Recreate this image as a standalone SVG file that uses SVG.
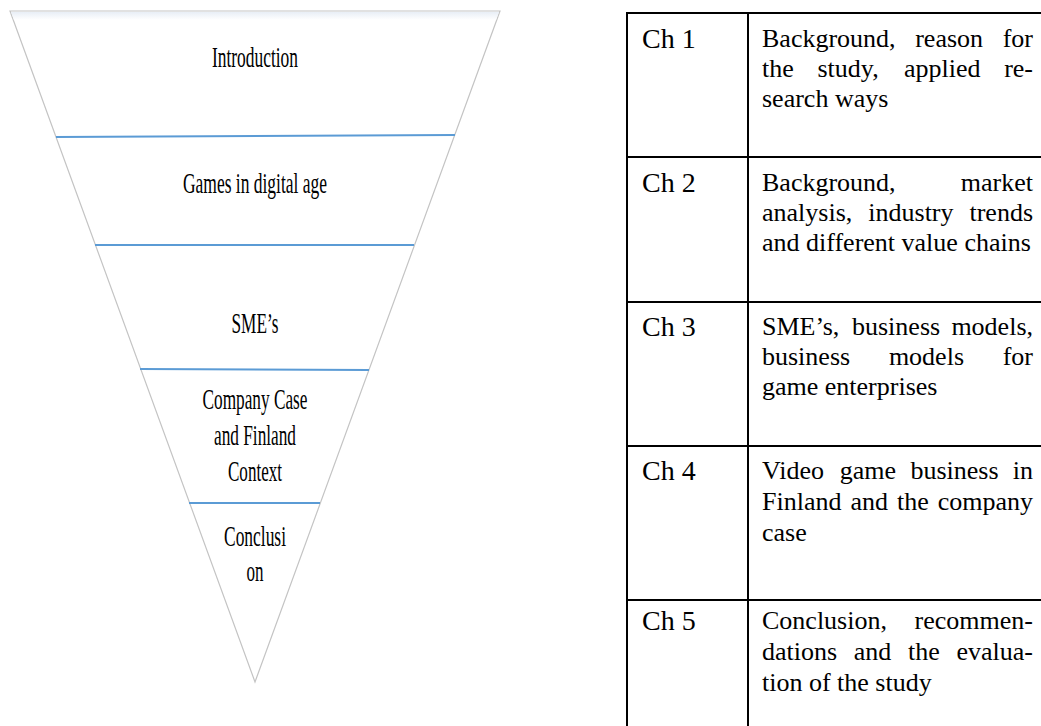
<svg xmlns="http://www.w3.org/2000/svg" width="1041" height="726" viewBox="0 0 1041 726">
<defs>
<style>
.funnel{fill:#ffffff;stroke:#c4c4c4;stroke-width:1.2}
.div{stroke:#5b9bd5;stroke-width:2.2;fill:none}
.ft{font-family:"Liberation Serif","Times New Roman",serif;font-size:30px;fill:#000;text-anchor:middle}
.grid{stroke:#000;stroke-width:2;fill:none}
.ch{font-family:"Liberation Serif","Times New Roman",serif;font-size:28px;fill:#000}
.bt{font-family:"Liberation Serif","Times New Roman",serif;font-size:26px;fill:#000}
.e{text-anchor:end}
</style>
<linearGradient id="topShade" x1="0" y1="0" x2="0" y2="1">
<stop offset="0" stop-color="#e8eef6"/>
<stop offset="1" stop-color="#ffffff"/>
</linearGradient>
</defs>
<rect width="1041" height="726" fill="#ffffff"/>

<g id="funnel">
<polygon class="funnel" points="10,11 500,11 255,682"/>
<polygon points="11,12 499,12 496,20 14,20" fill="url(#topShade)"/>
</g>

<g id="connectors">
<line class="div" x1="56" y1="137" x2="455" y2="135"/>
<line class="div" x1="95" y1="245" x2="414" y2="245"/>
<line class="div" x1="140" y1="369" x2="369" y2="370"/>
<line class="div" x1="189" y1="503" x2="320" y2="503"/>
</g>

<g id="seg-introduction">
<text class="ft" x="255" y="67" textLength="86" lengthAdjust="spacingAndGlyphs">Introduction</text>
</g>
<g id="seg-games">
<text class="ft" x="255" y="193" textLength="144" lengthAdjust="spacingAndGlyphs">Games in digital age</text>
</g>
<g id="seg-smes">
<text class="ft" x="255" y="333" textLength="47" lengthAdjust="spacingAndGlyphs">SME’s</text>
</g>
<g id="seg-company">
<text class="ft" x="255" y="409" textLength="105" lengthAdjust="spacingAndGlyphs">Company Case</text>
<text class="ft" x="255" y="445" textLength="82" lengthAdjust="spacingAndGlyphs">and Finland</text>
<text class="ft" x="255" y="481" textLength="54" lengthAdjust="spacingAndGlyphs">Context</text>
</g>
<g id="seg-conclusion">
<text class="ft" x="255" y="546" textLength="62" lengthAdjust="spacingAndGlyphs">Conclusi</text>
<text class="ft" x="255" y="581" textLength="17" lengthAdjust="spacingAndGlyphs">on</text>
</g>

<g id="table">
<line class="grid" x1="627" y1="13" x2="1045" y2="13"/>
<line class="grid" x1="627" y1="12" x2="627" y2="730"/>
<line class="grid" x1="748" y1="12" x2="748" y2="730"/>
<line class="grid" x1="627" y1="157" x2="1045" y2="157"/>
<line class="grid" x1="627" y1="302" x2="1045" y2="302"/>
<line class="grid" x1="627" y1="446" x2="1045" y2="446"/>
<line class="grid" x1="627" y1="600" x2="1045" y2="600"/>
</g>

<g id="row-ch1">
<text class="ch" x="642" y="48">Ch 1</text>
<text class="bt" x="762" y="47">Background,</text>
<text class="bt" x="915.2" y="47">reason</text>
<text class="bt e" x="1033" y="47">for</text>
<text class="bt" x="762" y="77">the</text>
<text class="bt" x="817.5" y="77">study,</text>
<text class="bt" x="904" y="77">applied</text>
<text class="bt e" x="1033" y="77">re-</text>
<text class="bt" x="762" y="107">search ways</text>
</g>

<g id="row-ch2">
<text class="ch" x="642" y="192">Ch 2</text>
<text class="bt" x="762" y="191">Background,</text>
<text class="bt e" x="1033" y="191">market</text>
<text class="bt" x="762" y="221">analysis,</text>
<text class="bt" x="868.3" y="221">industry</text>
<text class="bt e" x="1033" y="221">trends</text>
<text class="bt" x="762" y="251">and different value chains</text>
</g>

<g id="row-ch3">
<text class="ch" x="642" y="336">Ch 3</text>
<text class="bt" x="762" y="335">SME’s,</text>
<text class="bt" x="852" y="335">business</text>
<text class="bt e" x="1033" y="335">models,</text>
<text class="bt" x="762" y="365">business</text>
<text class="bt" x="888.9" y="365">models</text>
<text class="bt e" x="1033" y="365">for</text>
<text class="bt" x="762" y="395">game enterprises</text>
</g>

<g id="row-ch4">
<text class="ch" x="642" y="480">Ch 4</text>
<text class="bt" x="762" y="479">Video</text>
<text class="bt" x="839.8" y="479">game</text>
<text class="bt" x="910.4" y="479">business</text>
<text class="bt e" x="1033" y="479">in</text>
<text class="bt" x="762" y="510">Finland</text>
<text class="bt" x="850.5" y="510">and</text>
<text class="bt" x="897" y="510">the</text>
<text class="bt e" x="1033" y="510">company</text>
<text class="bt" x="762" y="541">case</text>
</g>

<g id="row-ch5">
<text class="ch" x="642" y="630">Ch 5</text>
<text class="bt" x="762" y="629">Conclusion,</text>
<text class="bt e" x="1033" y="629">recommen-</text>
<text class="bt" x="762" y="660">dations</text>
<text class="bt" x="853.8" y="660">and</text>
<text class="bt" x="908" y="660">the</text>
<text class="bt e" x="1033" y="660">evalua-</text>
<text class="bt" x="762" y="691">tion of the study</text>
</g>
</svg>
